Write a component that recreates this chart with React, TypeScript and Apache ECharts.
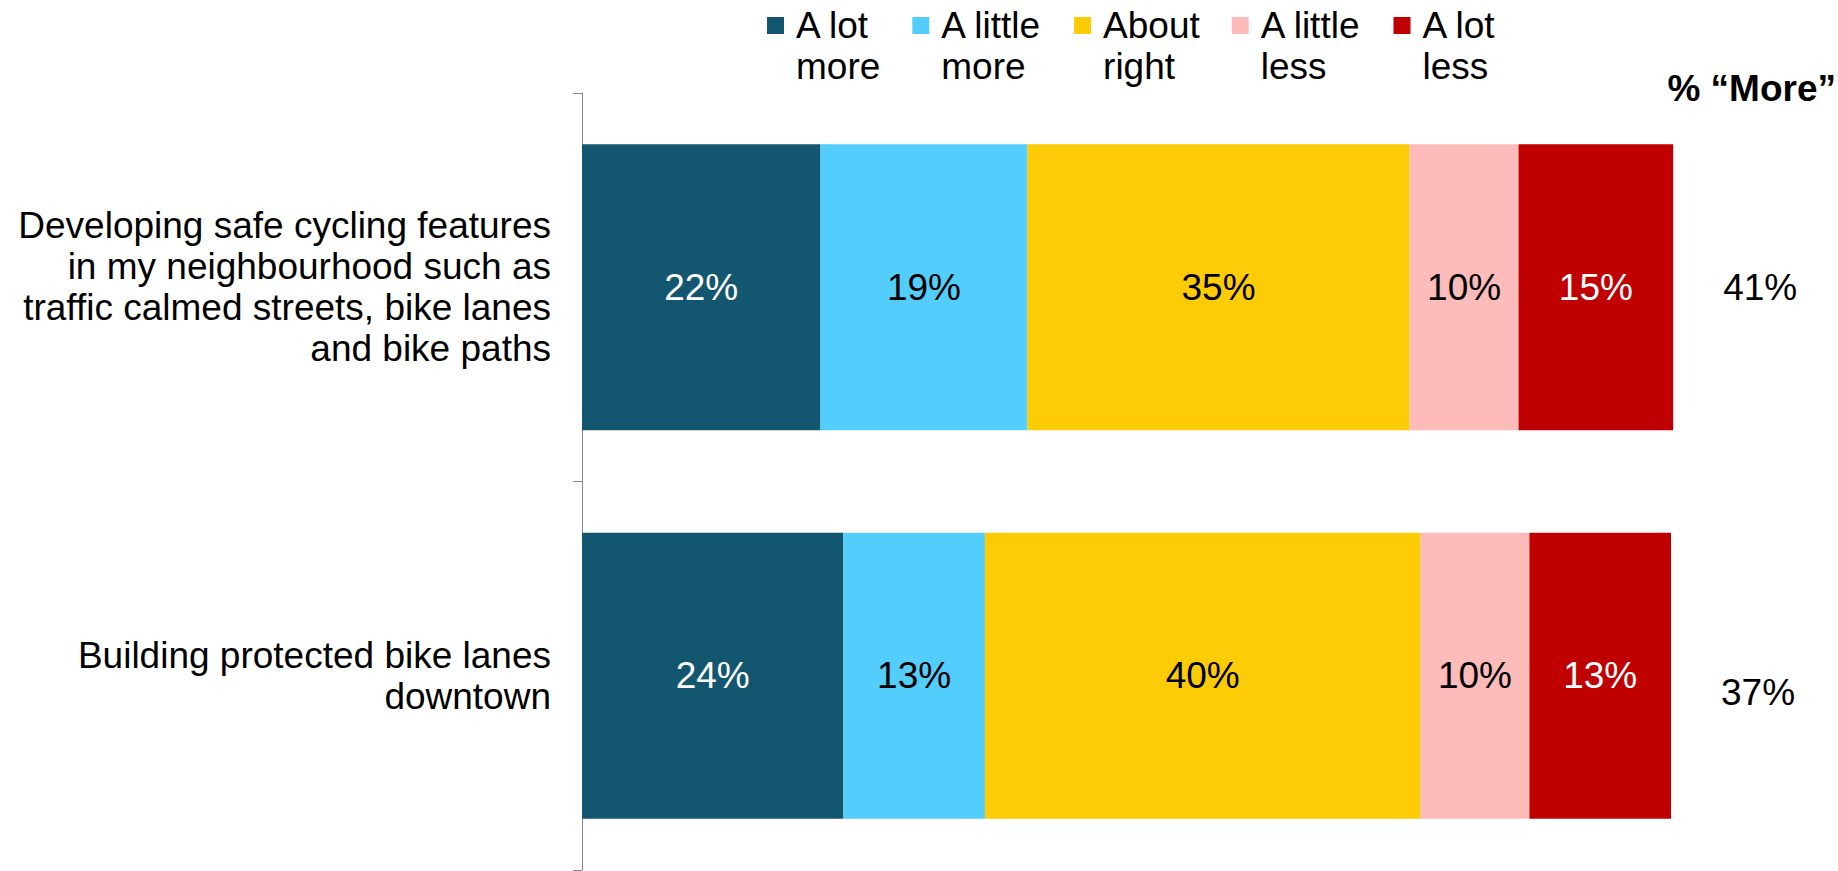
import React, { useEffect, useRef } from "react";
import * as echarts from "echarts";

const categories = [
  "Developing safe cycling features\nin my neighbourhood such as\ntraffic calmed streets, bike lanes\nand bike paths",
  "Building protected bike lanes\ndowntown",
];
const seriesNames = ["A lot\nmore", "A little\nmore", "About\nright", "A little\nless", "A lot\nless"];
const seriesColors = ["#135670", "#53CDFB", "#FECB07", "#FDBBBA", "#C00000"];
const labelColors = ["#ffffff", "#000000", "#000000", "#000000", "#ffffff"];
// segment widths (percent)
const aLotMore = [21.9, 24.0];
const aLittleMore = [19.0, 13.0];
const aboutRight = [35.1, 40.0];
const aLittleLess = [10.0, 10.0];
const aLotLess = [14.2, 13.0];
// printed labels
const aLotMoreLabels = ["22%", "24%"];
const aLittleMoreLabels = ["19%", "13%"];
const aboutRightLabels = ["35%", "40%"];
const aLittleLessLabels = ["10%", "10%"];
const aLotLessLabels = ["15%", "13%"];
const moreHeader = "% \u201cMore\u201d";
const moreLabels = ["41%", "37%"];

const FONT = "'Liberation Sans', Arial, sans-serif";

export default function App() {
  const ref = useRef<HTMLDivElement>(null);
  useEffect(() => {
    document.body.style.margin = "0";
    const chart = echarts.init(ref.current!, null, { renderer: "svg" });
    const values = [aLotMore, aLittleMore, aboutRight, aLittleLess, aLotLess];
    const labels = [aLotMoreLabels, aLittleMoreLabels, aboutRightLabels, aLittleLessLabels, aLotLessLabels];
    const series: any[] = seriesNames.map((name, i) => ({
      name,
      type: "bar",
      stack: "total",
      barWidth: 286,
      clip: false,
      itemStyle: { color: seriesColors[i] },
      label: {
        show: true,
        position: "inside",
        color: labelColors[i],
        fontFamily: FONT,
        fontSize: 37,
        formatter: (p: any) => labels[i][p.dataIndex],
      },
      data: values[i],
    }));
    series.push({
      name: "more",
      type: "bar",
      stack: "total",
      barWidth: 286,
      clip: false,
      itemStyle: { color: "transparent" },
      label: {
        show: true,
        position: "right",
        distance: 50,
        color: "#000",
        fontFamily: FONT,
        fontSize: 37,
        formatter: (p: any) => moreLabels[p.dataIndex],
      },
      data: [
        { value: 0 },
        { value: 0, label: { offset: [0, 17] } },
      ],
    });
    chart.setOption({
      animation: false,
      textStyle: { fontFamily: FONT },
      title: {
        text: moreHeader,
        right: 2,
        top: 67,
        padding: 0,
        textStyle: { fontFamily: FONT, fontSize: 37, fontWeight: "bold", color: "#000", lineHeight: 42 },
      },
      legend: {
        data: seriesNames,
        left: 767,
        top: -36,
        padding: 0,
        itemGap: 32,
        itemWidth: 17,
        itemHeight: 17,
        icon: "rect",
        selectedMode: false,
        formatter: (name: string) => "\n" + name,
        textStyle: {
          fontFamily: FONT,
          fontSize: 37,
          lineHeight: 41,
          color: "#000",
          padding: [0, 0, 0, 7],
        },
      },
      grid: { left: 582, top: 93, width: 1089, height: 777, containLabel: false },
      xAxis: { type: "value", min: 0, max: 100, show: false },
      yAxis: {
        type: "category",
        data: categories,
        inverse: true,
        axisLine: { show: true, lineStyle: { color: "#898989", width: 1 } },
        axisTick: { show: true, length: 9, lineStyle: { color: "#898989" } },
        axisLabel: {
          margin: 31,
          fontFamily: FONT,
          fontSize: 37,
          lineHeight: 41,
          color: "#000",
          align: "right",
        },
      },
      series,
    });
    return () => chart.dispose();
  }, []);
  return <div ref={ref} style={{ width: 1838, height: 871 }} />;
}
